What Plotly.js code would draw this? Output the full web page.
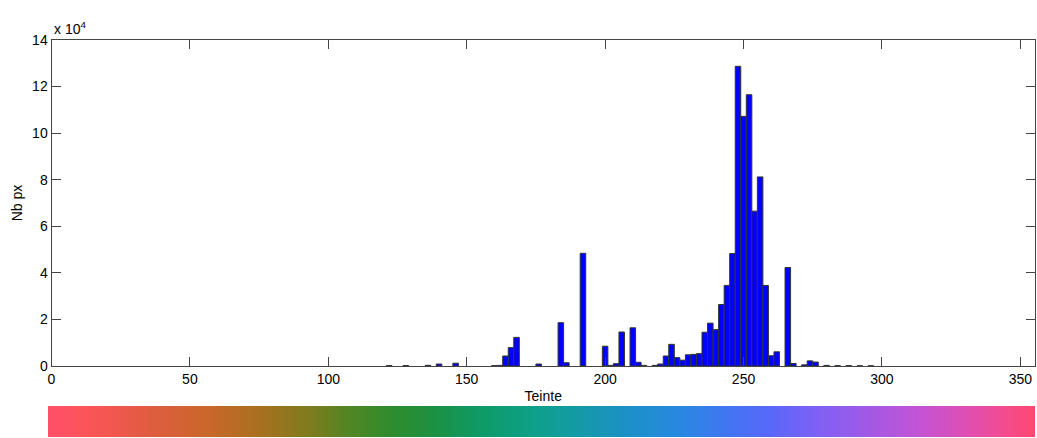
<!DOCTYPE html>
<html>
<head>
<meta charset="utf-8">
<script src="https://cdn.plot.ly/plotly-3.0.1.min.js"></script>
<style>
  html, body { margin: 0; padding: 0; background: #fff; }
  #chart { width: 1037px; height: 438px; }
</style>
</head>
<body>
<div id="chart"></div>
<script>
// Hue histogram: bin centres (degrees) and pixel counts per bin
const hueBins = [122, 128, 136, 140, 146, 160, 162, 164, 166, 168, 176, 184, 186, 192,
  200, 202, 204, 206, 210, 212, 214, 218, 220, 222, 224, 226, 228, 230, 232, 234,
  236, 238, 240, 242, 244, 246, 248, 250, 252, 254, 256, 258, 260, 262, 266, 268,
  272, 274, 276, 280, 284, 288, 292, 296];
const pixelCounts = [200, 200, 300, 850, 1200, 150, 250, 4300, 7900, 12300, 850, 18600, 1400, 48400,
  8500, 250, 1000, 14600, 16400, 1600, 250, 250, 850, 4300, 9300, 3600, 2500, 4800, 5000, 5300,
  14500, 18400, 15600, 26400, 34600, 48300, 128700, 107200, 116500, 66500, 81200, 34600, 4400, 6100, 42300, 1100,
  500, 2200, 1700, 250, 150, 150, 100, 100];
const binWidth = 2;

// Axis ticks
const xTickVals = [0, 50, 100, 150, 200, 250, 300, 350];
const yTickVals = [0, 20000, 40000, 60000, 80000, 100000, 120000, 140000];
const yTickText = ['0', '2', '4', '6', '8', '10', '12', '14'];

// Hue strip under the axis: hue stops and their display colours
const hueStops = [0, 15, 37, 59, 77, 96, 110, 125, 139, 158, 176, 194, 212, 230, 245, 263, 281, 300, 318, 336, 347, 360];
const hueColors = ['#ff5068', '#fb5458', '#e05c40', '#c8682a', '#a8701f', '#7c7c1e', '#508624', '#2e8c2e',
  '#1e9040', '#0e9a68', '#0ea088', '#149aa8', '#1c90c8', '#2888e0', '#3e78f0', '#5868fa', '#8060f4',
  '#a458e4', '#c454d4', '#e04eb0', '#f04c94', '#ff4870'];

const W = 1037, H = 438;
const mL = 47, mR = 2, mT = 40, mB = 1;
const plotW = W - mL - mR, plotH = H - mT - mB;
const axisLeftPx = 51.5;       // left edge of the histogram axes
const axisBottomPx = 366;      // baseline of the histogram axes
const stripTopPx = 406, stripLeftPx = 48;

const xMain0 = (axisLeftPx - mL) / plotW;
const yMain0 = (H - mB - axisBottomPx) / plotH;
const yStrip1 = (H - mB - stripTopPx) / plotH;
const xStrip0 = (stripLeftPx - mL) / plotW;

const font = { family: 'Liberation Sans, Arial, Helvetica, sans-serif', size: 14, color: '#000' };

const colorscale = hueStops.map((h, i) => [(h - hueStops[0]) / (hueStops[hueStops.length - 1] - hueStops[0]), hueColors[i]]);

const traces = [
  {
    type: 'bar',
    x: hueBins,
    y: pixelCounts,
    width: binWidth,
    marker: { color: '#0000ff', line: { color: '#333333', width: 1 } },
    xaxis: 'x', yaxis: 'y',
    hoverinfo: 'x+y'
  },
  {
    type: 'heatmap',
    x: hueStops,
    y: [0],
    z: [hueStops],
    colorscale: colorscale,
    zsmooth: 'best',
    showscale: false,
    xaxis: 'x2', yaxis: 'y2',
    hoverinfo: 'skip'
  }
];

const axisCommon = {
  showline: true, linecolor: '#444', linewidth: 1,
  ticks: 'inside', ticklen: 9, tickcolor: '#444', tickwidth: 1,
  mirror: 'ticks', showgrid: false, zeroline: false,
  tickfont: font
};

const layout = {
  width: W, height: H,
  margin: { l: mL, r: mR, t: mT, b: mB, pad: 0 },
  paper_bgcolor: '#fff', plot_bgcolor: '#fff',
  showlegend: false,
  bargap: 0,
  font: font,
  xaxis: Object.assign({}, axisCommon, {
    domain: [xMain0, 1], range: [0, 355.3],
    tickvals: xTickVals,
    title: { text: 'Teinte', font: font, standoff: 5 },
    anchor: 'y'
  }),
  yaxis: Object.assign({}, axisCommon, {
    domain: [yMain0, 1], range: [0, 140000],
    tickvals: yTickVals, ticktext: yTickText,
    title: { text: 'Nb px', font: font, standoff: 6 },
    anchor: 'x'
  }),
  xaxis2: {
    domain: [xStrip0, 1], range: [hueStops[0], hueStops[hueStops.length - 1]],
    visible: false, anchor: 'y2', fixedrange: true
  },
  yaxis2: {
    domain: [0, yStrip1], range: [-0.5, 0.5],
    visible: false, anchor: 'x2', fixedrange: true
  },
  annotations: [
    {
      text: 'x 10<sup>4</sup>', xref: 'paper', yref: 'paper',
      x: xMain0, y: 1, xanchor: 'left', yanchor: 'bottom',
      showarrow: false, font: font, yshift: 1
    }
  ]
};

Plotly.newPlot('chart', traces, layout, { displayModeBar: false, staticPlot: true });
</script>
</body>
</html>
